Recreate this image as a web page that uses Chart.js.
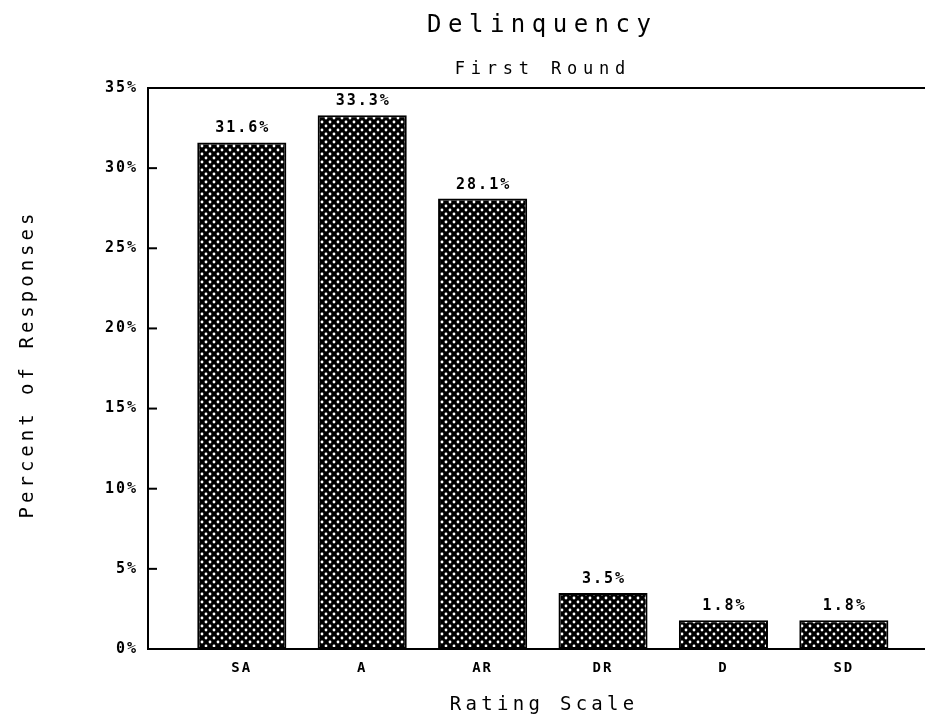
<!DOCTYPE html>
<html>
<head>
<meta charset="utf-8">
<script src="https://cdn.jsdelivr.net/npm/chart.js@4"></script>
<style>
  html, body { margin: 0; padding: 0; background: #fff; }
  #wrap { width: 925px; height: 715px; }
</style>
</head>
<body>
<div id="wrap"><canvas id="chart" width="925" height="715"></canvas></div>
<script>
// Datos del gráfico
const categories = ['SA', 'A', 'AR', 'DR', 'D', 'SD'];
const percents = [31.6, 33.3, 28.1, 3.5, 1.8, 1.8];
const valueLabels = ['31.6%', '33.3%', '28.1%', '3.5%', '1.8%', '1.8%'];
const yTickValues = [0, 5, 10, 15, 20, 25, 30, 35];

const mono = '"DejaVu Sans Mono", "Liberation Mono", monospace';

// Trama de puntos blancos sobre negro
function makePattern() {
    const tile = document.createElement('canvas');
    tile.width = 8;
    tile.height = 8;
    const t = tile.getContext('2d');
    t.fillStyle = '#000';
    t.fillRect(0, 0, 8, 8);
    t.fillStyle = '#fff';
    [[2, 2], [6, 6]].forEach(p => {
        t.beginPath();
        t.arc(p[0], p[1], 1.4, 0, Math.PI * 2);
        t.fill();
    });
    return document.createElement('canvas').getContext('2d').createPattern(tile, 'repeat');
}

function spacedText(ctx, text, x, y, font, spacing, align) {
    ctx.save();
    ctx.font = font;
    ctx.letterSpacing = spacing + 'px';
    ctx.fillStyle = '#000';
    ctx.textAlign = align || 'center';
    ctx.textBaseline = 'alphabetic';
    // compensar el espacio final que agrega letterSpacing
    ctx.fillText(text, x + (align === 'center' || !align ? spacing / 2 : 0), y);
    ctx.restore();
}

const decorPlugin = {
    id: 'decor',
    beforeDraw(chart) {
        chart.ctx.letterSpacing = '2px';
    },
    afterDraw(chart) {
        const ctx = chart.ctx;
        const area = chart.chartArea;
        const yScale = chart.scales.y;

        ctx.save();
        ctx.strokeStyle = '#000';
        ctx.lineWidth = 2;
        // borde superior
        ctx.beginPath();
        ctx.moveTo(area.left - 1, area.top);
        ctx.lineTo(area.right, area.top);
        ctx.stroke();
        // marcas hacia adentro en el eje Y
        yTickValues.forEach(v => {
            const y = yScale.getPixelForValue(v);
            ctx.beginPath();
            ctx.moveTo(area.left, y);
            ctx.lineTo(area.left + 9, y);
            ctx.stroke();
        });
        ctx.restore();

        // etiquetas de valores sobre las barras
        const meta = chart.getDatasetMeta(0);
        meta.data.forEach((bar, i) => {
            spacedText(ctx, valueLabels[i], bar.x, bar.y - 10, 'bold 15px ' + mono, 2, 'center');
        });

        // títulos
        spacedText(ctx, 'Delinquency', 539, 32, '24px ' + mono, 6.5, 'center');
        spacedText(ctx, 'First Round', 540, 74, '17px ' + mono, 5.8, 'center');
        spacedText(ctx, 'Rating Scale', 542, 710, '19px ' + mono, 4.3, 'center');

        ctx.save();
        ctx.translate(33, 366);
        ctx.rotate(-Math.PI / 2);
        spacedText(ctx, 'Percent of Responses', 0, 0, '19px ' + mono, 4, 'center');
        ctx.restore();
    }
};

const ctx = document.getElementById('chart').getContext('2d');

new Chart(ctx, {
    type: 'bar',
    data: {
        datasets: [{
            data: percents.map((v, i) => ({ x: i, y: v })),
            backgroundColor: makePattern(),
            borderColor: '#000',
            borderWidth: 2,
            borderSkipped: false,
            categoryPercentage: 1,
            barPercentage: 0.74
        }]
    },
    options: {
        responsive: false,
        animation: false,
        layout: { padding: { top: 88, left: 0, right: 0, bottom: 0 } },
        plugins: {
            legend: { display: false },
            tooltip: { enabled: false }
        },
        scales: {
            x: {
                type: 'linear',
                min: -0.779,
                max: 5.674,
                offset: false,
                grid: { display: false, offset: false },
                border: { display: true, color: '#000', width: 2 },
                afterFit(scale) { scale.height = 66; },
                afterBuildTicks(scale) {
                    scale.ticks = categories.map((c, i) => ({ value: i }));
                },
                ticks: {
                    autoSkip: false,
                    maxRotation: 0,
                    padding: 3,
                    color: '#000',
                    font: { family: mono, size: 14, weight: 'bold' },
                    callback: v => categories[v] || ''
                }
            },
            y: {
                min: 0,
                max: 35,
                grid: { display: false },
                border: { display: true, color: '#000', width: 2 },
                afterFit(scale) { scale.width = 148; },
                ticks: {
                    stepSize: 5,
                    padding: 2,
                    color: '#000',
                    font: { family: mono, size: 15, weight: 'bold' },
                    callback: v => v + '%'
                }
            }
        }
    },
    plugins: [decorPlugin]
});
</script>
</body>
</html>
